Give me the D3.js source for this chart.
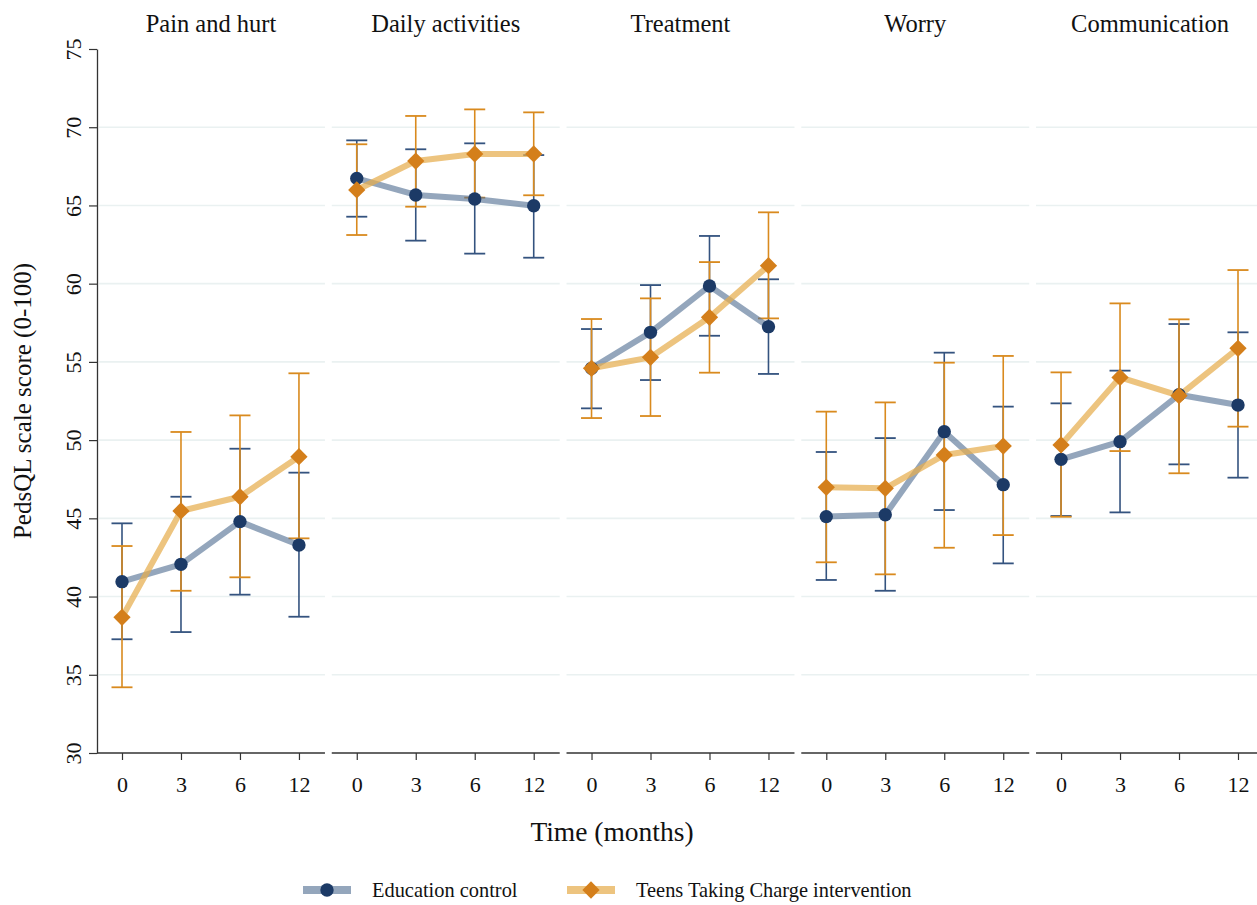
<!DOCTYPE html>
<html>
<head>
<meta charset="utf-8">
<script src="https://cdn.jsdelivr.net/npm/d3@7"></script>
<style>
  html, body { margin: 0; padding: 0; background: #ffffff; }
  svg { display: block; }
  text { font-family: "Liberation Serif", "Times New Roman", serif; fill: #111; }
</style>
</head>
<body>
<svg id="chart" width="1257" height="905"></svg>
<script>
// ---------------- DATA ----------------
const panels = ["Pain and hurt", "Daily activities", "Treatment", "Worry", "Communication"];
const timepoints = ["0", "3", "6", "12"];
const yTicks = [30, 35, 40, 45, 50, 55, 60, 65, 70, 75];
const seriesNames = ["Education control", "Teens Taking Charge intervention"];

// Education control (mean, lower CI, upper CI) per panel x timepoint
const controlMean = [
  [40.95, 42.06, 44.79, 43.29],
  [66.73, 65.67, 65.41, 64.98],
  [54.59, 56.89, 59.85, 57.25],
  [45.11, 45.23, 50.54, 47.15],
  [48.77, 49.90, 52.90, 52.24]
];
const controlLower = [
  [37.27, 37.73, 40.12, 38.71],
  [64.28, 62.75, 61.92, 61.66],
  [52.03, 53.84, 56.67, 54.23],
  [41.06, 40.37, 45.53, 42.12],
  [45.15, 45.38, 48.45, 47.60]
];
const controlUpper = [
  [44.68, 46.38, 49.45, 47.92],
  [69.16, 68.59, 68.97, 68.22],
  [57.10, 59.91, 63.05, 60.28],
  [49.24, 50.13, 55.59, 52.14],
  [52.35, 54.44, 57.42, 56.89]
];

// Teens Taking Charge intervention
const interventionMean = [
  [38.67, 45.47, 46.38, 48.94],
  [65.99, 67.84, 68.29, 68.29],
  [54.59, 55.29, 57.85, 61.15],
  [46.98, 46.92, 49.05, 49.62],
  [49.69, 54.01, 52.84, 55.87]
];
const interventionLower = [
  [34.20, 40.37, 41.23, 43.72],
  [63.11, 64.92, 65.50, 65.65],
  [51.41, 51.54, 54.31, 57.78],
  [42.19, 41.42, 43.12, 43.93],
  [45.10, 49.30, 47.88, 50.86]
];
const interventionUpper = [
  [43.23, 50.52, 51.58, 54.27],
  [68.91, 70.72, 71.14, 70.95],
  [57.74, 59.06, 61.38, 64.56],
  [51.82, 52.41, 54.95, 55.38],
  [54.33, 58.74, 57.72, 60.87]
];

// ---------------- STYLE ----------------
const style = {
  control: { line: "#4d6a8f", lineOpacity: 0.6, bar: "#34537f", marker: "#1c3a66" },
  intervention: { line: "#e6ad4e", lineOpacity: 0.72, bar: "#d98a1e", marker: "#d47f1b" }
};

const svg = d3.select("#chart");

const y = d3.scaleLinear().domain([30, 75]).range([753, 49]);

const panelScale = d3.scaleBand()
  .domain(panels)
  .range([97, 1264])
  .paddingInner(0.029);

const x = d3.scalePoint()
  .domain(timepoints)
  .range([25, panelScale.bandwidth() - 26]);

// ---------------- PANELS ----------------
const series = [
  { key: "control", mean: controlMean, lo: controlLower, hi: controlUpper, shape: "circle" },
  { key: "intervention", mean: interventionMean, lo: interventionLower, hi: interventionUpper, shape: "diamond" }
];

const diamond = d3.symbol().type(d3.symbolDiamond2 || d3.symbolDiamond).size(190);
const circleSym = d3.symbol().type(d3.symbolCircle).size(140);

panels.forEach((name, pi) => {
  const g = svg.append("g").attr("transform", `translate(${panelScale(name)},0)`);
  const w = panelScale.bandwidth();

  // gridlines
  g.append("g").selectAll("line")
    .data(yTicks.filter(t => t > 30 && t < 75))
    .join("line")
    .attr("x1", pi === 0 ? 2 : 0).attr("x2", w)
    .attr("y1", d => y(d)).attr("y2", d => y(d))
    .attr("stroke", "#eaf1f1").attr("stroke-width", 1.6);

  // title
  g.append("text")
    .attr("x", w / 2).attr("y", 32)
    .attr("text-anchor", "middle")
    .style("font-size", "24.5px")
    .text(name);

  // x axis
  const xAxis = d3.axisBottom(x).tickSize(7).tickSizeOuter(0).tickPadding(16);
  const ax = g.append("g").attr("transform", `translate(0,${y(30)})`).call(xAxis);
  ax.select(".domain").attr("d", `M0,0H${w}`).attr("stroke", "#333").attr("stroke-width", 1.3);
  ax.selectAll(".tick line").attr("stroke", "#333").attr("stroke-width", 1.2);
  ax.selectAll(".tick text")
    .style("font-family", '"Liberation Serif", "Times New Roman", serif')
    .style("font-size", "22px").attr("fill", "#111");

  // error bars
  series.forEach(s => {
    const st = style[s.key];
    const eg = g.append("g");
    timepoints.forEach((t, ti) => {
      const cx = x(t);
      const lo = s.lo[pi][ti], hi = s.hi[pi][ti];
      eg.append("line").attr("x1", cx).attr("x2", cx).attr("y1", y(lo)).attr("y2", y(hi))
        .attr("stroke", st.bar).attr("stroke-width", 1.6);
      [lo, hi].forEach(v => {
        eg.append("line").attr("x1", cx - 10.5).attr("x2", cx + 10.5).attr("y1", y(v)).attr("y2", y(v))
          .attr("stroke", st.bar).attr("stroke-width", 1.8);
      });
    });
  });

  // connecting lines
  series.forEach(s => {
    const st = style[s.key];
    const line = d3.line().x((d, i) => x(timepoints[i])).y(d => y(d));
    g.append("path").datum(s.mean[pi])
      .attr("d", line)
      .attr("fill", "none")
      .attr("stroke", st.line)
      .attr("stroke-opacity", st.lineOpacity)
      .attr("stroke-width", 6)
      .attr("stroke-linejoin", "round");
  });

  // markers
  series.forEach(s => {
    const st = style[s.key];
    g.append("g").selectAll("path")
      .data(s.mean[pi])
      .join("path")
      .attr("transform", (d, i) => `translate(${x(timepoints[i])},${y(d)})`)
      .attr("d", s.shape === "circle" ? circleSym() : diamond())
      .attr("fill", st.marker);
  });
});

// ---------------- Y AXIS ----------------
const yAxis = d3.axisLeft(y).tickValues(yTicks).tickSize(8).tickSizeOuter(0).tickPadding(10);
const yg = svg.append("g").attr("transform", `translate(${panelScale(panels[0])},0)`).call(yAxis);
yg.select(".domain").attr("stroke", "#333").attr("stroke-width", 1.3);
yg.selectAll(".tick line").attr("stroke", "#333").attr("stroke-width", 1.2);
yg.selectAll(".tick text")
  .style("font-family", '"Liberation Serif", "Times New Roman", serif')
  .style("font-size", "22px").attr("fill", "#111")
  .attr("x", null).attr("dy", null)
  .attr("text-anchor", "middle")
  .attr("transform", "translate(-24,0) rotate(-90)")
  .attr("y", 0).attr("dy", "0.35em");

// axis titles
svg.append("text")
  .attr("transform", "translate(31,401) rotate(-90)")
  .attr("text-anchor", "middle")
  .style("font-size", "25px")
  .text("PedsQL scale score (0-100)");

svg.append("text")
  .attr("x", 612).attr("y", 841)
  .attr("text-anchor", "middle")
  .style("font-size", "27.5px")
  .text("Time (months)");

// ---------------- LEGEND ----------------
const legendItems = [
  { key: "control", label: seriesNames[0], x0: 303, shape: "circle" },
  { key: "intervention", label: seriesNames[1], x0: 567, shape: "diamond" }
];
const lg = svg.append("g");
legendItems.forEach(it => {
  const st = style[it.key];
  const ly = 890;
  lg.append("line").attr("x1", it.x0).attr("x2", it.x0 + 48).attr("y1", ly).attr("y2", ly)
    .attr("stroke", st.line).attr("stroke-opacity", st.lineOpacity).attr("stroke-width", 8);
  lg.append("path").attr("transform", `translate(${it.x0 + 24},${ly})`)
    .attr("d", it.shape === "circle" ? circleSym() : diamond())
    .attr("fill", st.marker);
  lg.append("text").attr("x", it.x0 + 69).attr("y", ly + 7)
    .style("font-size", "20.4px").text(it.label);
});
</script>
</body>
</html>
